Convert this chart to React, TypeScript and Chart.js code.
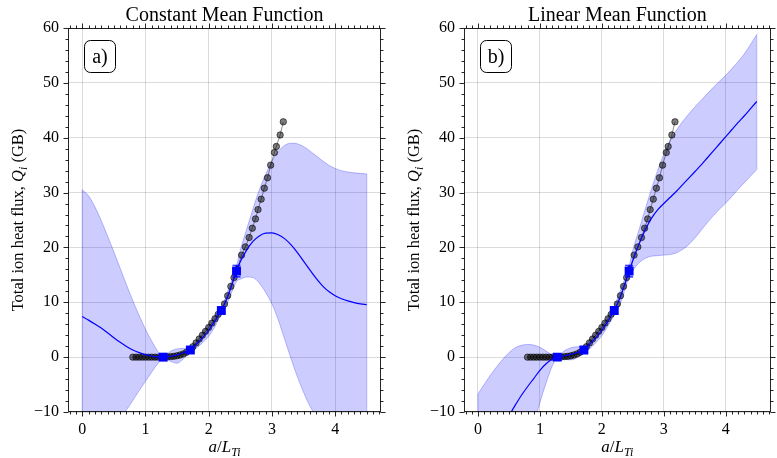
import React, { useEffect, useRef } from "react";
import { Chart, registerables } from "chart.js";

Chart.register(...registerables);

// ---------------- data ----------------
const X_MAJOR = [0, 1, 2, 3, 4];
const Y_MAJOR = [-10, 0, 10, 20, 30, 40, 50, 60];
const X_LIMITS = [-0.225, 4.725];
const Y_LIMITS = [-10, 60];

// GP prediction grid (a/L_Ti)
const gridX = [
  0, 0.1, 0.2, 0.3, 0.4, 0.5, 0.6, 0.7, 0.8, 0.9,
  1.0, 1.1, 1.2, 1.28, 1.4, 1.5, 1.6, 1.71, 1.8, 1.9,
  2.0, 2.1, 2.2, 2.3, 2.44, 2.5, 2.6, 2.7, 2.8, 2.9,
  3.0, 3.1, 3.2, 3.3, 3.4, 3.5, 3.6, 3.7, 3.8, 3.9,
  4.0, 4.1, 4.2, 4.3, 4.4, 4.5,
];

// a) Constant mean function
const constMean = [
  7.4, 6.75, 6.05, 5.3, 4.45, 3.55, 2.7, 1.95, 1.3, 0.82,
  0.46, 0.2, 0.05, 0.0, 0.15, 0.4, 0.8, 1.35, 2.3, 3.5,
  4.9, 6.6, 8.5, 11.0, 15.6, 17.4, 19.5, 21.1, 22.1, 22.6,
  22.65, 22.3, 21.6, 20.5, 19.1, 17.5, 15.9, 14.35, 13.0, 11.95,
  11.2, 10.65, 10.25, 9.95, 9.72, 9.55,
];
const constUpper = [
  30.5, 29.4, 27.4, 24.9, 22.1, 19.2, 16.2, 13.2, 10.3, 7.6,
  5.1, 2.9, 1.0, 0.1, 1.1, 1.5, 1.6, 1.8, 3.0, 4.4,
  6.0, 7.6, 9.0, 12.0, 16.6, 19.5, 23.3, 27.0, 30.5, 33.3,
  35.7, 37.5, 38.6, 39.0, 38.9, 38.4, 37.6, 36.7, 35.8, 35.0,
  34.4, 34.0, 33.75, 33.6, 33.5, 33.4,
];
const constLower = [
  -15.8, -15.6, -15.0, -14.1, -13.0, -11.9, -10.8, -9.6, -7.9, -6.1,
  -4.4, -2.7, -1.1, -0.1, -0.8, -1.1, -0.3, 0.9, 1.6, 2.6,
  3.8, 5.6, 8.0, 10.0, 13.8, 14.2, 14.6, 14.5, 13.5, 11.8,
  9.7, 6.8, 3.3, -0.2, -3.5, -6.4, -8.9, -10.8, -12.4, -13.5,
  -14.2, -14.6, -14.8, -14.8, -14.7, -14.6,
];

// b) Linear mean function
const linMean = [
  -19, -17.6, -16.0, -14.4, -12.6, -10.7, -8.8, -7.0, -5.4, -3.9,
  -2.4, -1.2, -0.4, 0.0, 0.25, 0.5, 0.85, 1.35, 2.3, 3.5,
  4.9, 6.6, 8.5, 11.0, 15.6, 17.6, 20.6, 23.2, 25.3, 26.85,
  28.0, 29.1, 30.2, 31.4, 32.6, 33.8, 35.0, 36.3, 37.6, 38.9,
  40.2, 41.5, 42.8, 44.0, 45.3, 46.6,
];
const linUpper = [
  -6.7, -5.0, -3.3, -1.8, -0.4, 0.8, 1.7, 2.15, 2.3, 2.2,
  1.8, 1.1, 0.4, 0.1, 1.2, 1.7, 1.9, 2.0, 3.1, 4.4,
  5.9, 7.5, 9.3, 12.2, 16.6, 19.5, 23.2, 27.0, 30.6, 34.0,
  37.0, 39.4, 41.3, 42.9, 44.3, 45.6, 46.8, 48.0, 49.2, 50.3,
  51.4, 52.6, 53.9, 55.3, 57.0, 58.8,
];
const linLower = [
  -38, -36, -33, -30, -27, -24, -21, -18, -15.5, -12.3,
  -8.3, -4.7, -1.6, -0.1, -0.4, -0.5, -0.1, 0.7, 1.5, 2.6,
  3.9, 5.7, 7.7, 9.8, 14.6, 15.8, 17.2, 18.0, 18.4, 18.5,
  18.6, 18.7, 19.0, 19.6, 20.5, 21.7, 23.1, 24.5, 25.8, 27.0,
  28.1, 29.3, 30.6, 31.8, 33.0, 34.2,
];

// simulation scan (gray dots)
const simX = [
  0.80, 0.85, 0.90, 0.95, 1.00, 1.05, 1.10, 1.15, 1.20, 1.25,
  1.30, 1.35, 1.40, 1.45, 1.50, 1.55, 1.60, 1.65, 1.70, 1.75,
  1.80, 1.85, 1.90, 1.95, 2.00, 2.05, 2.10, 2.15, 2.20, 2.25,
  2.30, 2.35, 2.40, 2.45, 2.52, 2.58, 2.64, 2.69, 2.74, 2.78,
  2.83, 2.88, 2.93, 2.98, 3.04, 3.07, 3.13, 3.18,
];
const simY = [
  0, 0, 0, 0, 0, 0, 0, 0, 0, 0,
  0.02, 0.05, 0.1, 0.15, 0.25, 0.4, 0.6, 0.9, 1.3, 1.9,
  2.6, 3.3, 4.0, 4.7, 5.4, 6.2, 7.0, 7.8, 8.6, 9.7,
  11.2, 12.9, 14.5, 16.0, 18.6, 20.1, 21.8, 23.5, 25.2, 26.9,
  28.8, 30.8, 32.7, 35.0, 37.3, 38.4, 40.5, 42.9,
];

// training points (blue squares) with error bars
const trainX = [1.28, 1.71, 2.2, 2.44];
const trainY = [0.0, 1.3, 8.5, 15.7];
const trainErr = [0.1, 0.2, 0.5, 1.05];

const titles = ["Constant Mean Function", "Linear Mean Function"];
const panelLabels = ["a)", "b)"];

// ---------------- drawing ----------------
const FONT = '"Liberation Serif", "Times New Roman", serif';

type Run = { t: string; italic?: boolean; sub?: boolean };

function drawRuns(ctx: CanvasRenderingContext2D, runs: Run[], cx: number, y: number, size: number) {
  const fontOf = (r: Run) => `${r.italic ? "italic " : ""}${r.sub ? Math.round(size * 0.72) : size}px ${FONT}`;
  const widths = runs.map((r) => {
    ctx.font = fontOf(r);
    return ctx.measureText(r.t).width;
  });
  const total = widths.reduce((a, b) => a + b, 0);
  let x = cx - total / 2;
  ctx.textAlign = "left";
  ctx.textBaseline = "alphabetic";
  runs.forEach((r, i) => {
    ctx.font = fontOf(r);
    ctx.fillText(r.t, x, y + (r.sub ? size * 0.25 : 0));
    x += widths[i];
  });
}

function makeDecor(cfg: { title: string; label: string; upper: number[]; lower: number[] }) {
  return {
    id: "decor",
    afterDatasetsDraw(chart: any) {
      const { ctx, chartArea: a, scales } = chart;
      const xs = scales.x;
      const ys = scales.y;
      ctx.save();
      ctx.beginPath();
      ctx.rect(a.left, a.top, a.right - a.left, a.bottom - a.top);
      ctx.clip();
      // vertical edges of the confidence band
      ctx.strokeStyle = "rgba(0,0,255,0.25)";
      ctx.lineWidth = 1;
      [0, gridX.length - 1].forEach((i) => {
        const px = xs.getPixelForValue(gridX[i]);
        ctx.beginPath();
        ctx.moveTo(px, ys.getPixelForValue(cfg.upper[i]));
        ctx.lineTo(px, ys.getPixelForValue(cfg.lower[i]));
        ctx.stroke();
      });
      // error bars
      ctx.strokeStyle = "#0000ff";
      ctx.lineWidth = 1.2;
      trainX.forEach((xv, i) => {
        const px = xs.getPixelForValue(xv);
        const p1 = ys.getPixelForValue(trainY[i] + trainErr[i]);
        const p2 = ys.getPixelForValue(trainY[i] - trainErr[i]);
        ctx.beginPath();
        ctx.moveTo(px, p1);
        ctx.lineTo(px, p2);
        ctx.moveTo(px - 4, p1);
        ctx.lineTo(px + 4, p1);
        ctx.moveTo(px - 4, p2);
        ctx.lineTo(px + 4, p2);
        ctx.stroke();
      });
      ctx.restore();
    },
    afterDraw(chart: any) {
      const { ctx, chartArea: a, scales } = chart;
      const xs = scales.x;
      const ys = scales.y;
      ctx.save();
      const L = Math.round(a.left) + 0.5;
      const R = Math.round(a.right) - 0.5;
      const T = Math.round(a.top) + 0.5;
      const B = Math.round(a.bottom) - 0.5;
      // spines
      ctx.strokeStyle = "rgba(0,0,0,0.85)";
      ctx.lineWidth = 1;
      ctx.strokeRect(L, T, R - L, B - T);
      // ticks (outward, all four sides)
      ctx.beginPath();
      const xMinor = 0.1;
      for (let k = Math.ceil(X_LIMITS[0] / xMinor); k * xMinor <= X_LIMITS[1] + 1e-9; k++) {
        const v = k * xMinor;
        const major = Math.abs(v - Math.round(v)) < 1e-6;
        const len = major ? 5 : 3;
        const px = Math.round(xs.getPixelForValue(v)) + 0.5;
        ctx.moveTo(px, B);
        ctx.lineTo(px, B + len);
        ctx.moveTo(px, T);
        ctx.lineTo(px, T - len);
      }
      const yMinor = 2;
      for (let v = Y_LIMITS[0]; v <= Y_LIMITS[1]; v += yMinor) {
        const major = v % 10 === 0;
        const len = major ? 5 : 3;
        const py = Math.round(ys.getPixelForValue(v)) + 0.5;
        ctx.moveTo(L, py);
        ctx.lineTo(L - len, py);
        ctx.moveTo(R, py);
        ctx.lineTo(R + len, py);
      }
      ctx.stroke();

      ctx.fillStyle = "#000";
      // title
      ctx.font = `20px ${FONT}`;
      ctx.textAlign = "center";
      ctx.textBaseline = "alphabetic";
      ctx.fillText(cfg.title, (a.left + a.right) / 2, 21);

      // x label
      drawRuns(
        ctx,
        [
          { t: "a", italic: true },
          { t: "/" },
          { t: "L", italic: true },
          { t: "Ti", italic: true, sub: true },
        ],
        (a.left + a.right) / 2,
        452,
        17
      );

      // y label
      ctx.save();
      ctx.translate(a.left - 45, (a.top + a.bottom) / 2);
      ctx.rotate(-Math.PI / 2);
      drawRuns(
        ctx,
        [
          { t: "Total ion heat flux, " },
          { t: "Q", italic: true },
          { t: "i", italic: true, sub: true },
          { t: " (GB)" },
        ],
        0,
        0,
        16.5
      );
      ctx.restore();

      // panel label box
      const bx = a.left + 16;
      const by = 40;
      const bw = 31;
      const bh = 32;
      ctx.beginPath();
      ctx.roundRect(bx + 0.5, by + 0.5, bw, bh, 6);
      ctx.fillStyle = "rgba(255,255,255,0.9)";
      ctx.fill();
      ctx.strokeStyle = "#000";
      ctx.lineWidth = 1;
      ctx.stroke();
      ctx.fillStyle = "#000";
      ctx.font = `20px ${FONT}`;
      ctx.textAlign = "center";
      ctx.textBaseline = "middle";
      ctx.fillText(cfg.label, bx + bw / 2 + 0.5, by + bh / 2 + 1.5);
      ctx.restore();
    },
  };
}

const fmtNum = (v: number) => (v < 0 ? "\u2212" + Math.abs(v) : String(v));

function Panel(props: {
  left: number;
  width: number;
  axisW: number;
  padR: number;
  mean: number[];
  upper: number[];
  lower: number[];
  title: string;
  label: string;
}) {
  const ref = useRef<HTMLCanvasElement | null>(null);
  useEffect(() => {
    if (!ref.current) return;
    const pts = (xs: number[], ys: number[]) => xs.map((x, i) => ({ x, y: ys[i] }));
    const chart = new Chart(ref.current, {
      type: "line",
      data: {
        datasets: [
          {
            data: pts(gridX, props.upper),
            borderColor: "rgba(0,0,255,0.25)",
            borderWidth: 1,
            backgroundColor: "rgba(0,0,255,0.2)",
            pointRadius: 0,
            fill: "+1",
            cubicInterpolationMode: "monotone",
            order: 5,
          },
          {
            data: pts(gridX, props.lower),
            borderColor: "rgba(0,0,255,0.25)",
            borderWidth: 1,
            pointRadius: 0,
            fill: false,
            cubicInterpolationMode: "monotone",
            order: 5,
          },
          {
            data: pts(simX, simY),
            borderColor: "rgba(0,0,0,0.45)",
            borderWidth: 1,
            pointRadius: 3.2,
            pointBackgroundColor: "rgba(0,0,0,0.5)",
            pointBorderColor: "rgba(0,0,0,0.65)",
            pointBorderWidth: 0.9,
            fill: false,
            tension: 0,
            order: 3,
          },
          {
            data: pts(gridX, props.mean),
            borderColor: "#0000ff",
            borderWidth: 1.2,
            pointRadius: 0,
            fill: false,
            cubicInterpolationMode: "monotone",
            order: 2,
          },
          {
            data: pts(trainX, trainY),
            showLine: false,
            pointStyle: "rect",
            pointRadius: 6.3,
            pointBackgroundColor: "#0000ff",
            pointBorderColor: "#0000ff",
            pointBorderWidth: 0,
            order: 1,
          },
        ],
      },
      options: {
        animation: false,
        responsive: false,
        devicePixelRatio: 1,
        events: [],
        layout: { padding: { left: 0, right: props.padR, top: 28, bottom: 0 } },
        plugins: { legend: { display: false }, tooltip: { enabled: false }, title: { display: false } },
        scales: {
          x: {
            type: "linear",
            min: X_LIMITS[0],
            max: X_LIMITS[1],
            afterBuildTicks: (s: any) => {
              s.ticks = X_MAJOR.map((v) => ({ value: v }));
            },
            afterFit: (s: any) => {
              s.height = 46;
            },
            grid: { color: "rgba(0,0,0,0.14)", lineWidth: 1, drawTicks: false },
            border: { display: false },
            ticks: {
              color: "#000",
              font: { family: FONT, size: 16 },
              padding: 8,
              maxRotation: 0,
              autoSkip: false,
              callback: (v: any) => fmtNum(Number(v)),
            },
          },
          y: {
            type: "linear",
            min: Y_LIMITS[0],
            max: Y_LIMITS[1],
            afterBuildTicks: (s: any) => {
              s.ticks = Y_MAJOR.map((v) => ({ value: v }));
            },
            afterFit: (s: any) => {
              s.width = props.axisW;
            },
            grid: { color: "rgba(0,0,0,0.14)", lineWidth: 1, drawTicks: false },
            border: { display: false },
            ticks: {
              color: "#000",
              font: { family: FONT, size: 16 },
              padding: 9,
              autoSkip: false,
              callback: (v: any) => fmtNum(Number(v)),
            },
          },
        },
      } as any,
      plugins: [makeDecor({ title: props.title, label: props.label, upper: props.upper, lower: props.lower })],
    });
    return () => chart.destroy();
  }, []);
  return (
    <canvas
      ref={ref}
      width={props.width}
      height={458}
      style={{ position: "absolute", left: props.left, top: 0, width: props.width, height: 458 }}
    />
  );
}

export default function App() {
  return (
    <div style={{ position: "fixed", left: 0, top: 0, width: 777, height: 458, background: "#fff", overflow: "hidden" }}>
      <Panel left={0} width={390} axisW={68} padR={9} mean={constMean} upper={constUpper} lower={constLower} title={titles[0]} label={panelLabels[0]} />
      <Panel left={390} width={387} axisW={74} padR={0} mean={linMean} upper={linUpper} lower={linLower} title={titles[1]} label={panelLabels[1]} />
    </div>
  );
}
